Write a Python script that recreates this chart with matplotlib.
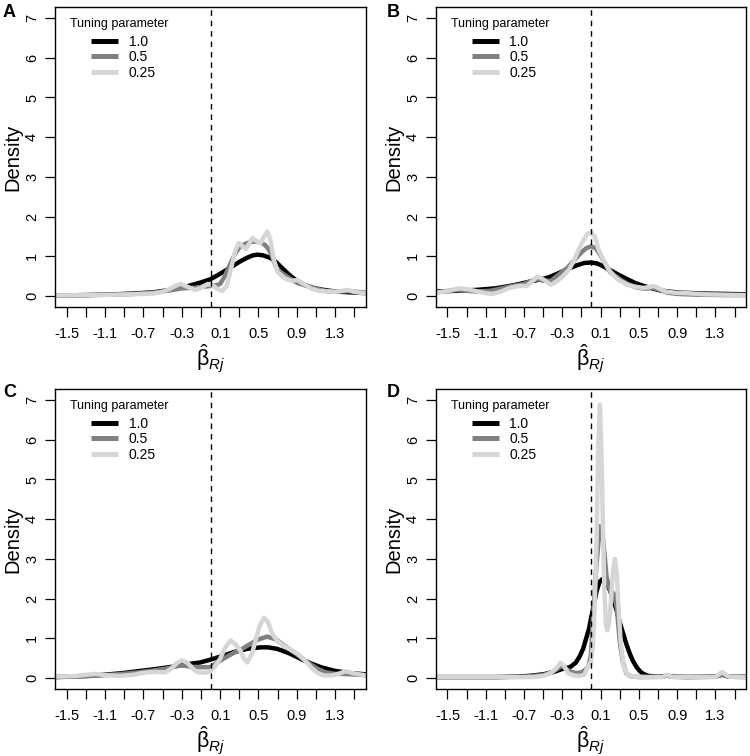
import matplotlib
matplotlib.use('Agg')
import matplotlib.pyplot as plt

plt.rcParams['font.family'] = ['Liberation Sans', 'DejaVu Sans']
plt.rcParams['mathtext.fontset'] = 'custom'
plt.rcParams['mathtext.rm'] = 'Liberation Sans'
plt.rcParams['mathtext.it'] = 'Liberation Sans:italic'
plt.rcParams['mathtext.bf'] = 'Liberation Sans:bold'

# ---------------- data ----------------
panel_labels = ['A', 'B', 'C', 'D']
tuning_labels = ['1.0', '0.5', '0.25']
legend_title = 'Tuning parameter'
x_ticks = [-1.5, -1.3, -1.1, -0.9, -0.7, -0.5, -0.3, -0.1, 0.1, 0.3, 0.5, 0.7, 0.9, 1.1, 1.3, 1.5]
x_tick_labels = ['-1.5', '', '-1.1', '', '-0.7', '', '-0.3', '', '0.1', '', '0.5', '', '0.9', '', '1.3', '']
y_ticks = [0, 1, 2, 3, 4, 5, 6, 7]
y_tick_labels = ['0', '1', '2', '3', '4', '5', '6', '7']
reference_x = 0.0

# Panel A
A_x_10 = [-1.62, -1.3, -1.0, -0.8, -0.6, -0.45, -0.3, -0.2, -0.1, 0.0, 0.08, 0.17, 0.25, 0.31, 0.38, 0.44, 0.49,
          0.55, 0.63, 0.68, 0.73, 0.79, 0.84, 0.9, 0.975, 1.05, 1.18, 1.3, 1.45, 1.62]
A_y_10 = [0.01, 0.02, 0.04, 0.06, 0.09, 0.14, 0.21, 0.27, 0.34, 0.42, 0.53, 0.66, 0.78, 0.87, 0.96, 1.02, 1.04,
          1.02, 0.95, 0.86, 0.74, 0.6, 0.49, 0.38, 0.28, 0.21, 0.15, 0.11, 0.09, 0.07]
A_x_05 = [-1.62, -1.3, -1.0, -0.8, -0.6, -0.45, -0.3, -0.2, -0.1, 0.0, 0.05, 0.1, 0.15, 0.21, 0.26, 0.31, 0.38,
          0.45, 0.52, 0.57, 0.61, 0.65, 0.68, 0.72, 0.77, 0.84, 0.91, 0.98, 1.045, 1.12, 1.21, 1.3, 1.45, 1.62]
A_y_05 = [0.01, 0.02, 0.03, 0.05, 0.08, 0.13, 0.19, 0.2, 0.22, 0.25, 0.26, 0.3, 0.5, 0.83, 1.08, 1.25, 1.33,
          1.37, 1.35, 1.28, 1.16, 0.95, 0.74, 0.62, 0.53, 0.42, 0.32, 0.27, 0.23, 0.17, 0.12, 0.11, 0.12, 0.08]
A_x_025 = [-1.62, -1.3, -1.0, -0.8, -0.6, -0.5, -0.42, -0.36, -0.31, -0.25, -0.16, -0.08, -0.03, 0.02, 0.07,
           0.12, 0.17, 0.22, 0.26, 0.295, 0.33, 0.365, 0.4, 0.435, 0.48, 0.52, 0.56, 0.59, 0.62, 0.66, 0.7,
           0.77, 0.84, 0.906, 0.97, 1.045, 1.12, 1.18, 1.3, 1.38, 1.43, 1.5, 1.62]
A_y_025 = [0.01, 0.02, 0.03, 0.04, 0.06, 0.1, 0.18, 0.26, 0.3, 0.24, 0.15, 0.22, 0.3, 0.27, 0.18,
           0.12, 0.25, 0.75, 1.15, 1.33, 1.26, 1.18, 1.3, 1.46, 1.38, 1.33, 1.5, 1.62, 1.45, 0.91, 0.6,
           0.45, 0.38, 0.4, 0.3, 0.19, 0.13, 0.12, 0.1, 0.13, 0.15, 0.1, 0.06]

# Panel B
B_x_10 = [-1.62, -1.4, -1.2, -1.0, -0.85, -0.75, -0.6, -0.45, -0.35, -0.25, -0.15, -0.07, 0.0, 0.06, 0.118,
          0.2, 0.29, 0.38, 0.466, 0.55, 0.64, 0.72, 0.81, 0.95, 1.16, 1.4, 1.62]
B_y_10 = [0.11, 0.13, 0.15, 0.19, 0.25, 0.3, 0.38, 0.46, 0.56, 0.67, 0.77, 0.83, 0.84, 0.82, 0.76,
          0.65, 0.53, 0.42, 0.32, 0.25, 0.19, 0.14, 0.11, 0.08, 0.06, 0.05, 0.04]
B_x_05 = [-1.62, -1.5, -1.4, -1.3, -1.2, -1.05, -0.93, -0.8, -0.7, -0.6, -0.55, -0.5, -0.42, -0.33, -0.25,
          -0.17, -0.1, -0.05, 0.0, 0.05, 0.1, 0.15, 0.2, 0.29, 0.38, 0.466, 0.56, 0.65, 0.72, 0.8, 0.9, 1.1,
          1.4, 1.62]
B_y_05 = [0.09, 0.12, 0.15, 0.13, 0.11, 0.13, 0.19, 0.26, 0.3, 0.4, 0.42, 0.38, 0.38, 0.55, 0.7,
          0.91, 1.1, 1.2, 1.25, 1.2, 1.02, 0.8, 0.6, 0.44, 0.3, 0.22, 0.18, 0.2, 0.15, 0.08, 0.05, 0.03,
          0.02, 0.02]
B_x_025 = [-1.62, -1.5, -1.42, -1.36, -1.3, -1.2, -1.1, -1.03, -0.95, -0.85, -0.75, -0.67, -0.6, -0.56,
           -0.5, -0.42, -0.35, -0.3, -0.23, -0.18, -0.13, -0.08, -0.04, 0.0, 0.04, 0.08, 0.13, 0.187, 0.24,
           0.29, 0.38, 0.466, 0.55, 0.6, 0.657, 0.7, 0.78, 0.88, 0.99, 1.2, 1.4, 1.62]
B_y_025 = [0.08, 0.12, 0.17, 0.19, 0.17, 0.12, 0.07, 0.05, 0.1, 0.2, 0.25, 0.25, 0.4, 0.49,
           0.42, 0.28, 0.38, 0.48, 0.66, 0.88, 1.16, 1.4, 1.55, 1.6, 1.5, 1.16, 0.9, 0.66, 0.5,
           0.4, 0.28, 0.23, 0.2, 0.22, 0.25, 0.2, 0.11, 0.08, 0.07, 0.04, 0.03, 0.02]

# Panel C
C_x_10 = [-1.62, -1.3, -1.1, -0.92, -0.75, -0.58, -0.4, -0.23, -0.106, 0.0, 0.12, 0.243, 0.38, 0.52, 0.6,
          0.697, 0.82, 0.94, 1.05, 1.15, 1.29, 1.45, 1.62]
C_y_10 = [0.02, 0.05, 0.08, 0.12, 0.17, 0.22, 0.28, 0.35, 0.39, 0.46, 0.55, 0.65, 0.73, 0.77, 0.77,
          0.73, 0.62, 0.48, 0.36, 0.27, 0.18, 0.12, 0.09]
C_x_05 = [-1.62, -1.3, -1.1, -0.92, -0.75, -0.58, -0.45, -0.35, -0.28, -0.2, -0.106, 0.0, 0.07, 0.16, 0.243,
          0.33, 0.417, 0.5, 0.59, 0.68, 0.766, 0.85, 0.94, 1.03, 1.115, 1.2, 1.3, 1.36, 1.45, 1.62]
C_y_05 = [0.02, 0.04, 0.07, 0.1, 0.14, 0.19, 0.24, 0.3, 0.31, 0.28, 0.27, 0.27, 0.39, 0.52, 0.63,
          0.73, 0.86, 0.97, 1.04, 0.97, 0.82, 0.68, 0.52, 0.36, 0.23, 0.14, 0.1, 0.1, 0.09, 0.07]
C_x_025 = [-1.62, -1.4, -1.25, -1.2, -1.1, -0.95, -0.8, -0.7, -0.58, -0.47, -0.4, -0.35, -0.297, -0.24,
           -0.18, -0.13, -0.06, 0.0, 0.05, 0.1, 0.15, 0.208, 0.26, 0.31, 0.35, 0.383, 0.43, 0.47, 0.51,
           0.557, 0.6, 0.644, 0.69, 0.73, 0.82, 0.906, 0.98, 1.045, 1.11, 1.18, 1.25, 1.33, 1.41, 1.48, 1.62]
C_y_025 = [0.03, 0.05, 0.09, 0.1, 0.07, 0.05, 0.08, 0.13, 0.15, 0.14, 0.25, 0.38, 0.44, 0.38,
           0.22, 0.14, 0.13, 0.16, 0.3, 0.48, 0.75, 0.94, 0.85, 0.69, 0.48, 0.39, 0.6, 0.94, 1.3,
           1.52, 1.4, 1.11, 0.95, 0.86, 0.73, 0.61, 0.45, 0.27, 0.13, 0.06, 0.06, 0.1, 0.17, 0.12, 0.06]

# Panel D
D_x_10 = [-1.62, -1.0, -0.8, -0.65, -0.5, -0.4, -0.33, -0.28, -0.22, -0.16, -0.116, -0.08, -0.05, -0.02, 0.0,
          0.03, 0.06, 0.09, 0.12, 0.16, 0.2, 0.235, 0.268, 0.3, 0.337, 0.37, 0.407, 0.44, 0.477, 0.51, 0.547,
          0.6, 0.7, 0.76, 0.8, 0.85, 1.0, 1.3, 1.37, 1.44, 1.62]
D_y_10 = [0.02, 0.02, 0.03, 0.05, 0.09, 0.14, 0.2, 0.24, 0.27, 0.38, 0.55, 0.75, 1.0, 1.25, 1.5,
          1.85, 2.2, 2.42, 2.49, 2.38, 2.2, 1.95, 1.7, 1.4, 1.11, 0.85, 0.6, 0.42, 0.27, 0.17, 0.1,
          0.05, 0.03, 0.04, 0.06, 0.03, 0.02, 0.03, 0.08, 0.03, 0.03]
D_x_05 = [-1.62, -1.0, -0.7, -0.5, -0.4, -0.34, -0.3, -0.26, -0.2, -0.15, -0.1, -0.05, -0.02, 0.0, 0.023,
          0.058, 0.093, 0.128, 0.163, 0.2, 0.24, 0.27, 0.303, 0.337, 0.372, 0.42, 0.5, 0.75, 0.8, 0.85, 1.3,
          1.37, 1.44, 1.62]
D_y_05 = [0.02, 0.02, 0.03, 0.07, 0.15, 0.25, 0.3, 0.22, 0.15, 0.12, 0.14, 0.22, 0.35, 0.6, 1.6,
          2.88, 3.82, 3.47, 2.54, 2.2, 2.12, 1.75, 0.86, 0.35, 0.1, 0.04, 0.02, 0.03, 0.06, 0.03, 0.03,
          0.08, 0.03, 0.02]
D_x_025 = [-1.62, -1.0, -0.6, -0.5, -0.42, -0.36, -0.32, -0.28, -0.24, -0.18, -0.12, -0.07, -0.03, 0.0, 0.02,
           0.04, 0.06, 0.075, 0.093, 0.11, 0.125, 0.14, 0.155, 0.17, 0.19, 0.21, 0.23, 0.25, 0.27, 0.29,
           0.31, 0.34, 0.38, 0.45, 0.6, 0.75, 0.8, 0.85, 1.3, 1.37, 1.44, 1.62]
D_y_025 = [0.02, 0.02, 0.02, 0.05, 0.12, 0.25, 0.38, 0.3, 0.12, 0.06, 0.05, 0.08, 0.3, 0.4, 0.8,
           1.9, 3.6, 5.8, 6.88, 5.6, 3.8, 2.2, 1.35, 1.2, 1.4, 2.0, 2.7, 3.0, 2.6, 1.7,
           0.9, 0.3, 0.08, 0.03, 0.02, 0.02, 0.08, 0.02, 0.02, 0.15, 0.03, 0.02]

curves = {
    'A': [(A_x_10, A_y_10), (A_x_05, A_y_05), (A_x_025, A_y_025)],
    'B': [(B_x_10, B_y_10), (B_x_05, B_y_05), (B_x_025, B_y_025)],
    'C': [(C_x_10, C_y_10), (C_x_05, C_y_05), (C_x_025, C_y_025)],
    'D': [(D_x_10, D_y_10), (D_x_05, D_y_05), (D_x_025, D_y_025)],
}

# ---------------- styling ----------------
line_colors = ['#000000', '#808080', '#d6d6d6']
W, H = 750.0, 756.0
# axes boxes in pixels: (left, top, right, bottom)
boxes = {
    'A': (55, 7, 366, 307),
    'B': (436, 7, 746, 307),
    'C': (55, 389, 366, 689),
    'D': (436, 389, 746, 689),
}
label_pos = {'A': (3, 4), 'B': (387, 4), 'C': (3, 384), 'D': (387, 384)}

fig = plt.figure(figsize=(7.5, 7.56), dpi=100)

for p in panel_labels:
    l, t, r, b = boxes[p]
    ax = fig.add_axes([l / W, 1 - b / H, (r - l) / W, (b - t) / H])
    for (xs, ys), col, lab in zip(curves[p], line_colors, tuning_labels):
        ax.plot(xs, ys, color=col, lw=3.2, solid_joinstyle='round', solid_capstyle='butt', label=lab)
    ax.axvline(reference_x, color='black', lw=1.0, linestyle=(0, (4, 3.5)), zorder=5)

    ax.set_xlim(-1.62, 1.62)
    ax.set_ylim(-0.28, 7.28)
    ax.set_xticks(x_ticks)
    ax.set_xticklabels(x_tick_labels, fontsize=10.5)
    ax.set_yticks(y_ticks)
    ax.set_yticklabels(y_tick_labels, fontsize=10.5, rotation=90, va='center')
    ax.tick_params(axis='both', direction='out', length=7.5, width=0.9, color='black')
    ax.tick_params(axis='x', pad=7)
    ax.tick_params(axis='y', pad=4)
    for s in ax.spines.values():
        s.set_linewidth(1.0)
        s.set_color('black')

    ax.set_ylabel('Density', fontsize=14.5)
    ax.yaxis.set_label_coords(-0.105, 0.5)
    ax.set_xlabel(r'$\hat{\mathrm{\beta}}_{Rj}$', fontsize=15.5)
    ax.xaxis.set_label_coords(0.5, -0.117)

    ax.text(15 / (r - l), 1 - 16.5 / (b - t), legend_title, transform=ax.transAxes,
            fontsize=9, ha='left', va='center')
    leg = ax.legend(loc='upper left', bbox_to_anchor=(36 / (r - l), 1 - 27.5 / (b - t)),
                    frameon=False, fontsize=10, handlelength=1.95, handletextpad=0.75,
                    labelspacing=0.13, borderpad=0, borderaxespad=0)
    for h in leg.get_lines():
        h.set_linewidth(3.6)

    lx, ly = label_pos[p]
    fig.text(lx / W, 1 - ly / H, p, fontsize=13, fontweight='bold', ha='left', va='top')

fig.savefig('out.png', dpi=100)
